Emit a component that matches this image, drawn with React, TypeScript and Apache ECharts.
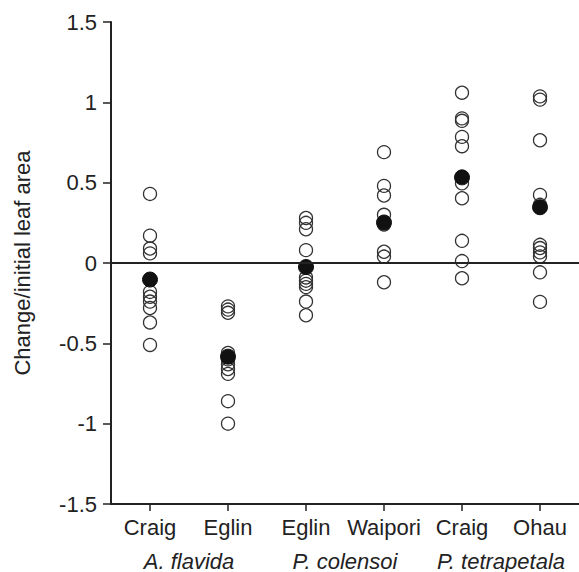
import React, { useEffect, useRef } from "react";
import * as echarts from "echarts";

const sites = ["Craig", "Eglin", "Eglin", "Waipori", "Craig", "Ohau"];
const species = ["A. flavida", "P. colensoi", "P. tetrapetala"];
const yTicks = { min: -1.5, max: 1.5, step: 0.5 };

// individual values (open circles) per site
const afCraig = [0.43, 0.17, 0.09, 0.06, -0.18, -0.21, -0.24, -0.28, -0.37, -0.51];
const afEglin = [-0.27, -0.29, -0.31, -0.56, -0.6, -0.63, -0.66, -0.69, -0.86, -1.0];
const pcEglin = [0.28, 0.25, 0.21, 0.08, -0.09, -0.11, -0.13, -0.15, -0.24, -0.325];
const pcWaipori = [0.69, 0.48, 0.42, 0.3, 0.24, 0.07, 0.04, -0.12];
const ptCraig = [1.06, 0.9, 0.885, 0.785, 0.727, 0.496, 0.403, 0.138, 0.012, -0.095];
const ptOhau = [1.037, 1.017, 0.764, 0.424, 0.362, 0.113, 0.093, 0.066, 0.041, -0.058, -0.242];

// means (filled circles)
const means = [-0.103, -0.583, -0.025, 0.252, 0.533, 0.347];

const groups = [afCraig, afEglin, pcEglin, pcWaipori, ptCraig, ptOhau];

export default function App() {
  const ref = useRef<HTMLDivElement>(null);
  useEffect(() => {
    if (!ref.current) return;
    const chart = echarts.init(ref.current, null, { renderer: "svg" });
    const openData: [number, number][] = [];
    groups.forEach((g, i) => g.forEach((v) => openData.push([i, v])));
    const meanData = means.map((v, i) => [i, v]);
    const font = "Liberation Sans, Arial, Helvetica, sans-serif";
    const ink = "#222";
    chart.setOption({
      animation: false,
      grid: { left: 111, right: -6, top: 22, bottom: 66 },
      xAxis: [
        {
          type: "category",
          data: sites,
          position: "bottom",
          boundaryGap: true,
          axisLine: { show: true, onZero: false, lineStyle: { color: ink, width: 2 } },
          axisTick: { show: true, alignWithLabel: true, length: 7, lineStyle: { color: ink, width: 1.5 } },
          axisLabel: { color: ink, fontSize: 22, fontFamily: font, margin: 12, interval: 0 },
          splitLine: { show: false },
        },
        {
          type: "category",
          data: species,
          position: "bottom",
          offset: 34,
          boundaryGap: true,
          axisLine: { show: false },
          axisTick: { show: false },
          axisLabel: { color: ink, fontSize: 22, fontFamily: font, fontStyle: "italic", margin: 12, interval: 0 },
          splitLine: { show: false },
        },
      ],
      yAxis: {
        type: "value",
        min: yTicks.min,
        max: yTicks.max,
        interval: yTicks.step,
        name: "Change/initial leaf area",
        nameLocation: "middle",
        nameGap: 78,
        nameTextStyle: { color: ink, fontSize: 22, fontFamily: font },
        axisLine: { show: true, lineStyle: { color: ink, width: 2 } },
        axisTick: { show: true, length: 8, lineStyle: { color: ink, width: 1.5 } },
        axisLabel: { color: ink, fontSize: 22, fontFamily: font, margin: 14 },
        splitLine: { show: false },
      },
      series: [
        {
          type: "scatter",
          xAxisIndex: 0,
          data: openData,
          symbol: "circle",
          symbolSize: 13,
          itemStyle: { color: "rgba(255,255,255,0)", borderColor: "#333", borderWidth: 1.3, opacity: 1 },
          markLine: {
            silent: true,
            symbol: "none",
            label: { show: false },
            lineStyle: { color: ink, width: 2, type: "solid" },
            data: [{ yAxis: 0 }],
          },
          z: 2,
        },
        {
          type: "scatter",
          xAxisIndex: 0,
          data: meanData,
          symbol: "circle",
          symbolSize: 15,
          itemStyle: { color: "#111", borderColor: "#111", borderWidth: 1, opacity: 1 },
          z: 3,
        },
      ],
    });
    return () => chart.dispose();
  }, []);
  return (
    <div
      ref={ref}
      style={{ position: "absolute", left: 0, top: 0, width: 579, height: 572, background: "#fff" }}
    />
  );
}
